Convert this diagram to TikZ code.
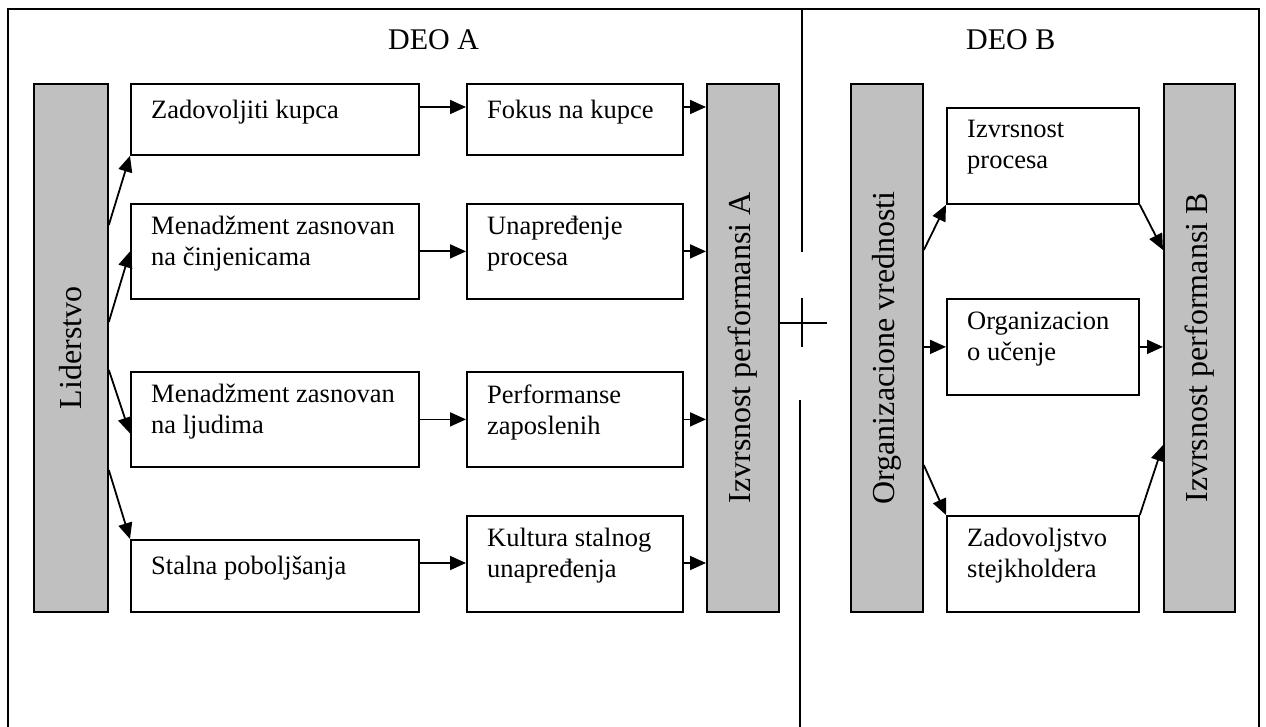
\documentclass[tikz,border=0pt]{standalone}
\usepackage{fontspec}
\setmainfont{Liberation Serif}
\usetikzlibrary{arrows.meta}
\definecolor{barfill}{HTML}{C0C0C0}
\begin{document}
\begin{tikzpicture}[x=1pt,y=-1pt,
  frame/.style={line width=1.4pt},
  wbox/.style={draw, line width=1.8pt, fill=white, inner sep=0pt, anchor=north west},
  gbox/.style={draw, line width=1.8pt, fill=barfill, inner sep=0pt, anchor=north west},
  txt/.style={inner sep=0pt, anchor=north west, align=left,
    font=\fontsize{26.5}{31}\selectfont, execute at begin node=\strut},
  vlbl/.style={rotate=90, inner sep=0pt, font=\fontsize{32}{38}\selectfont},
  head/.style={inner sep=0pt, anchor=base west, font=\fontsize{30}{36}\selectfont},
  arr/.style={line width=1.8pt, -{Triangle[length=16pt,width=14pt]}}]

% page area
\fill[white] (0,0) rectangle (1266,727);
\useasboundingbox (0,0) rectangle (1266,727);

% outer frame, open at the bottom, and the divider between the two parts
\draw[frame] (8,727) -- (8,9) -- (1259,9) -- (1259,727);
\draw[frame] (802,9) -- (802,252);
\draw[frame] (778,323) -- (827,323);
\draw[frame] (802,298) -- (802,347);
\draw[frame] (800,400) -- (800,727);

% headings
\node[head] (deoA) at (388,50) {DEO A};
\node[head] (deoB) at (966,50) {DEO B};

% part A
\node[gbox, minimum width=74pt, minimum height=528pt] (lider) at (33,83) {};
\node[vlbl] (liderT) at (lider.center) {Liderstvo};

\node[wbox, minimum width=288pt, minimum height=71pt] (b1) at (130,83) {};
\node[wbox, minimum width=288pt, minimum height=95pt] (b2) at (130,203) {};
\node[wbox, minimum width=288pt, minimum height=95pt] (b3) at (130,371) {};
\node[wbox, minimum width=288pt, minimum height=72pt] (b4) at (130,539) {};

\node[wbox, minimum width=216pt, minimum height=71pt] (c1) at (466,83) {};
\node[wbox, minimum width=216pt, minimum height=95pt] (c2) at (466,203) {};
\node[wbox, minimum width=216pt, minimum height=95pt] (c3) at (466,371) {};
\node[wbox, minimum width=216pt, minimum height=96pt] (c4) at (466,515) {};

\node[gbox, minimum width=72pt, minimum height=528pt] (pa) at (706,83) {};
\node[vlbl] (paT) at (pa.center) {Izvrsnost performansi A};

\node[txt] (b1t) at ([shift={(21,13.3)}]b1.north west) {Zadovoljiti kupca};
\node[txt] (b2t) at ([shift={(21,13.3)}]b2.north west) {Menadžment zasnovan\\na činjenicama};
\node[txt] (b3t) at ([shift={(21,13.3)}]b3.north west) {Menadžment zasnovan\\na ljudima};
\node[txt] (b4t) at ([shift={(21,13.3)}]b4.north west) {Stalna poboljšanja};
\node[txt] (c1t) at ([shift={(21,13.3)}]c1.north west) {Fokus na kupce};
\node[txt] (c2t) at ([shift={(21,13.3)}]c2.north west) {Unapređenje\\procesa};
\node[txt] (c3t) at ([shift={(21,13.3)}]c3.north west) {Performanse\\zaposlenih};
\node[txt] (c4t) at ([shift={(21,13.3)}]c4.north west) {Kultura stalnog\\unapređenja};

% part B
\node[gbox, minimum width=72pt, minimum height=528pt] (org) at (850,83) {};
\node[vlbl] (orgT) at (org.center) {Organizacione vrednosti};

\node[wbox, minimum width=192pt, minimum height=96pt] (ip) at (946,107) {};
\node[wbox, minimum width=192pt, minimum height=96pt] (ou) at (946,298) {};
\node[wbox, minimum width=192pt, minimum height=96pt] (zs) at (946,515) {};

\node[gbox, minimum width=71pt, minimum height=528pt] (pb) at (1163,83) {};
\node[vlbl] (pbT) at (pb.center) {Izvrsnost performansi B};

\node[txt] (ipt) at ([shift={(21,13.3)}]ip.north west) {Izvrsnost\\procesa};
\node[txt] (out) at ([shift={(21,13.3)}]ou.north west) {Organizacion\\o učenje};
\node[txt] (zst) at ([shift={(21,13.3)}]zs.north west) {Zadovoljstvo\\stejkholdera};

% connectors, part A
\draw[arr] ([yshift=-142pt]lider.north east) -- (b1.south west);
\draw[arr] ([yshift=-239pt]lider.north east) -- (b2.west);
\draw[arr] ([yshift=-287pt]lider.north east) -- ([yshift=-14pt]b3.west);
\draw[arr] ([yshift=-387pt]lider.north east) -- (b4.north west);

\coordinate (r1) at ([yshift=-24pt]b1.north east);
\draw[arr] (r1) -- (r1 -| c1.west);
\draw[arr] (r1 -| c1.east) -- (r1 -| pa.west);
\draw[arr] (b2.east) -- (c2.west);
\draw[arr] (c2.east) -- (c2.east -| pa.west);
\draw[arr] (b3.east) -- (c3.west);
\draw[arr] (c3.east) -- (c3.east -| pa.west);
\coordinate (r4) at ([yshift=-24pt]b4.north east);
\draw[arr] (r4) -- (r4 -| c4.west);
\draw[arr] (r4 -| c4.east) -- (r4 -| pa.west);

% connectors, part B
\draw[arr] ([yshift=-167pt]org.north east) -- (ip.south west);
\draw[arr] (ip.south east) -- ([yshift=-167pt]pb.north west);
\draw[arr] (ou.west -| org.east) -- (ou.west);
\draw[arr] (ou.east) -- (ou.east -| pb.west);
\draw[arr] ([yshift=-382pt]org.north east) -- (zs.north west);
\draw[arr] (zs.north east) -- ([yshift=-362pt]pb.north west);
\end{tikzpicture}
\end{document}
